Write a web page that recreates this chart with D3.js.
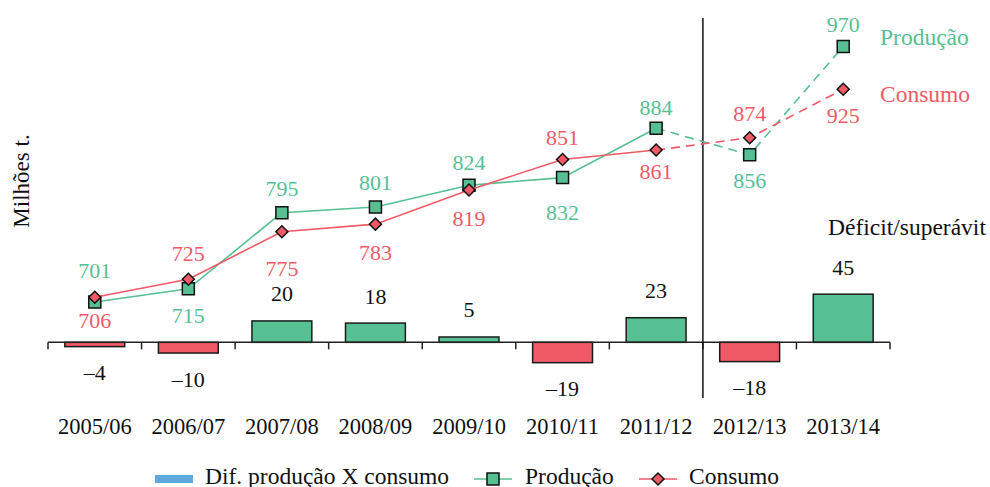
<!DOCTYPE html>
<html>
<head>
<meta charset="utf-8">
<script src="https://cdn.jsdelivr.net/npm/d3@7"></script>
<style>
  html, body { margin: 0; padding: 0; background: #fff; }
  svg { display: block; font-family: "Liberation Serif", "Times New Roman", serif; }
</style>
</head>
<body>
<svg id="chart" width="990" height="487"></svg>
<script>
// Safras (marketing years)
const safras = ["2005/06", "2006/07", "2007/08", "2008/09", "2009/10", "2010/11", "2011/12", "2012/13", "2013/14"];
// Produção e consumo mundiais, milhões de toneladas
const producao = [701, 715, 795, 801, 824, 832, 884, 856, 970];
const consumo  = [706, 725, 775, 783, 819, 851, 861, 874, 925];
// Déficit/superávit (produção − consumo)
const diferenca = [-4, -10, 20, 18, 5, -19, 23, -18, 45];
// Index of the first projected year (dashed segment starts one year earlier)
const inicioProjecao = 7;

// Label placement for the line values (vertical nudge, px)
const prodLabelDy = [-32, 27, -24, -25, -23, 35, -21, 26, -22];
const consLabelDy = [23, -26, 37, 28, 29, -22, 21, -24, 26];

const VERDE = "#57bf94";
const VERMELHO = "#f05a67";
const AZUL = "#5fa8dc";

const svg = d3.select("#chart");

const x = d3.scaleBand().domain(safras).range([48, 890]).padding(0);
const yLinha = d3.scaleLinear().domain([600, 1000]).range([398, 18]);
const yBarra = d3.scaleLinear().domain([-52, 303]).range([398, 18]);
const zero = yBarra(0);
const cx = d => x(d) + x.bandwidth() / 2;
const barW = x.bandwidth() * 0.64;

// Bars: difference between production and consumption
svg.append("g").selectAll("rect")
  .data(diferenca)
  .join("rect")
  .attr("x", (d, i) => cx(safras[i]) - barW / 2)
  .attr("y", d => Math.min(yBarra(d), zero))
  .attr("width", barW)
  .attr("height", d => Math.abs(yBarra(d) - zero))
  .attr("fill", d => d >= 0 ? VERDE : VERMELHO)
  .attr("stroke", "#1a1a1a")
  .attr("stroke-width", 1.5);

svg.append("g").selectAll("text")
  .data(diferenca)
  .join("text")
  .attr("x", (d, i) => cx(safras[i]))
  .attr("y", d => d >= 0 ? yBarra(d) - 27 : yBarra(d) + 26)
  .attr("text-anchor", "middle")
  .attr("dominant-baseline", "central")
  .attr("font-size", 22)
  .attr("fill", "#111")
  .text(d => d < 0 ? "\u2013" + Math.abs(d) : d);

// Category axis: baseline, boundary ticks, labels
const eixo = svg.append("g");
eixo.append("line")
  .attr("x1", x.range()[0]).attr("x2", x.range()[1])
  .attr("y1", zero).attr("y2", zero)
  .attr("stroke", "#222").attr("stroke-width", 1.5);
const limites = safras.map(s => x(s)).concat([x.range()[1]]);
eixo.selectAll("line.tick")
  .data(limites)
  .join("line")
  .attr("class", "tick")
  .attr("x1", d => d).attr("x2", d => d)
  .attr("y1", zero).attr("y2", zero + 7)
  .attr("stroke", "#222").attr("stroke-width", 1.5);

const eixoX = svg.append("g")
  .attr("transform", `translate(0,${zero})`)
  .call(d3.axisBottom(x).tickSize(0).tickPadding(0));
eixoX.select(".domain").remove();
eixoX.selectAll("text")
  .attr("y", 427 - zero)
  .attr("dy", null)
  .attr("dominant-baseline", "central")
  .attr("font-family", "Liberation Serif, serif")
  .attr("font-size", 22.5)
  .attr("fill", "#111");

// Vertical divider before projected years
svg.append("line")
  .attr("x1", x(safras[inicioProjecao])).attr("x2", x(safras[inicioProjecao]))
  .attr("y1", yLinha.range()[1]).attr("y2", yLinha.range()[0])
  .attr("stroke", "#111").attr("stroke-width", 1.5);

// Lines
function desenhaSerie(valores, cor, marcador, labelDy) {
  const pts = valores.map((v, i) => [cx(safras[i]), yLinha(v)]);
  const linha = d3.line();
  const g = svg.append("g");
  g.append("path")
    .attr("d", linha(pts.slice(0, inicioProjecao)))
    .attr("fill", "none").attr("stroke", cor).attr("stroke-width", 1.6);
  g.append("path")
    .attr("d", linha(pts.slice(inicioProjecao - 1)))
    .attr("fill", "none").attr("stroke", cor).attr("stroke-width", 1.6)
    .attr("stroke-dasharray", "9,6");
  const sym = d3.symbol().type(marcador === "quadrado" ? d3.symbolSquare : d3.symbolSquare)
    .size(marcador === "quadrado" ? 144 : 72);
  g.selectAll("path.m")
    .data(pts)
    .join("path")
    .attr("class", "m")
    .attr("d", sym())
    .attr("transform", d => `translate(${d[0]},${d[1]})` + (marcador === "quadrado" ? "" : " rotate(45)"))
    .attr("fill", cor).attr("stroke", "#111").attr("stroke-width", 1.5);
  g.selectAll("text")
    .data(valores)
    .join("text")
    .attr("x", (v, i) => cx(safras[i]))
    .attr("y", (v, i) => yLinha(v) + labelDy[i])
    .attr("text-anchor", "middle")
    .attr("dominant-baseline", "central")
    .attr("font-size", 22)
    .attr("fill", cor)
    .text(v => v);
}
desenhaSerie(producao, VERDE, "quadrado", prodLabelDy);
desenhaSerie(consumo, VERMELHO, "losango", consLabelDy);

// Series names at the right, and bar title
svg.append("text").attr("x", 880).attr("y", 37).attr("dominant-baseline", "central")
  .attr("font-size", 23.5).attr("fill", VERDE).text("Produção");
svg.append("text").attr("x", 880).attr("y", 94).attr("dominant-baseline", "central")
  .attr("font-size", 23.5).attr("fill", VERMELHO).text("Consumo");
svg.append("text").attr("x", 828).attr("y", 227).attr("dominant-baseline", "central")
  .attr("font-size", 23.5).attr("fill", "#111").text("Déficit/superávit");

// Y axis title
svg.append("text")
  .attr("transform", "translate(21,181) rotate(-90)")
  .attr("text-anchor", "middle").attr("dominant-baseline", "central")
  .attr("font-size", 23).attr("fill", "#111").text("Milhões t.");

// Legend
const leg = svg.append("g");
const ly = 479;
leg.append("rect").attr("x", 155).attr("y", ly - 4).attr("width", 38).attr("height", 8).attr("fill", AZUL);
leg.append("text").attr("x", 205).attr("y", 476).attr("dominant-baseline", "central")
  .attr("font-size", 23.5).attr("fill", "#111").text("Dif. produção X consumo");
leg.append("line").attr("x1", 474).attr("x2", 512).attr("y1", ly).attr("y2", ly)
  .attr("stroke", VERDE).attr("stroke-width", 1.6);
leg.append("path").attr("d", d3.symbol().type(d3.symbolSquare).size(144)())
  .attr("transform", `translate(493,${ly})`).attr("fill", VERDE).attr("stroke", "#111").attr("stroke-width", 1.5);
leg.append("text").attr("x", 525).attr("y", 476).attr("dominant-baseline", "central")
  .attr("font-size", 23.5).attr("fill", "#111").text("Produção");
leg.append("line").attr("x1", 639).attr("x2", 677).attr("y1", ly).attr("y2", ly)
  .attr("stroke", VERMELHO).attr("stroke-width", 1.6);
leg.append("path").attr("d", d3.symbol().type(d3.symbolSquare).size(72)())
  .attr("transform", `translate(658,${ly}) rotate(45)`).attr("fill", VERMELHO).attr("stroke", "#111").attr("stroke-width", 1.5);
leg.append("text").attr("x", 689).attr("y", 476).attr("dominant-baseline", "central")
  .attr("font-size", 23.5).attr("fill", "#111").text("Consumo");
</script>
</body>
</html>
